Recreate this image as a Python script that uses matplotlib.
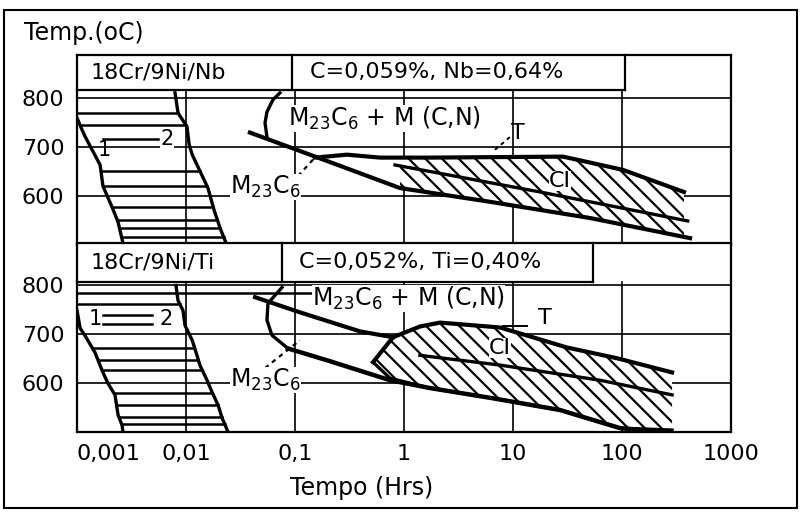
import numpy as np
import matplotlib.pyplot as plt
from matplotlib.patches import Rectangle

plt.rcParams['font.family'] = ['DejaVu Sans']
plt.rcParams['hatch.linewidth'] = 1.6

x_ticks = [0.001, 0.01, 0.1, 1, 10, 100, 1000]
x_labels = ['0,001', '0,01', '0,1', '1', '10', '100', '1000']
y_ticks = [600, 700, 800]
y_labels = ['600', '700', '800']

# ---------------- 18Cr/9Ni/Nb (upper panel)
nb_title = '18Cr/9Ni/Nb'
nb_comp = 'C=0,059%, Nb=0,64%'
nb_c1_t = [0.0010, 0.00111, 0.00118, 0.00163, 0.00173, 0.00209, 0.00238, 0.00264]
nb_c1_T = [759, 735, 722, 663, 620, 578, 547, 504]
nb_c2_t = [0.00793, 0.00845, 0.0102, 0.0107, 0.0114, 0.0134, 0.0159, 0.0181, 0.0205, 0.0233]
nb_c2_T = [810, 769, 741, 704, 684, 651, 616, 571, 535, 504]
nb_levels = [769, 745, 651, 620, 578, 551, 535, 516]
nb_nose_t = [0.0728, 0.0628, 0.0553, 0.0531, 0.0553]
nb_nose_T = [810, 796, 771, 749, 720]
nb_low_t = [0.0386, 0.137, 0.918, 6.15, 50.8, 421]
nb_low_T = [729, 684, 616, 588, 555, 514]
nb_up_t = [0.152, 0.300, 0.602, 1.73, 28.8, 102, 370]
nb_up_T = [678, 684, 678, 678, 680, 653, 608]
nb_mid_t = [0.827, 17.7, 400]
nb_mid_T = [663, 608, 549]
nb_dash_t = [0.094, 0.152]
nb_dash_T = [627, 678]

# ---------------- 18Cr/9Ni/Ti (lower panel)
ti_title = '18Cr/9Ni/Ti'
ti_comp = 'C=0,052%, Ti=0,40%'
ti_c1_t = [0.0010, 0.00107, 0.00118, 0.00146, 0.00173, 0.00192, 0.00223, 0.00238, 0.00259, 0.00264]
ti_c1_T = [749, 712, 698, 663, 622, 600, 576, 535, 514, 500]
ti_c2_t = [0.00809, 0.00845, 0.00938, 0.0098, 0.0114, 0.0126, 0.0134, 0.0156, 0.0173, 0.0197, 0.0214, 0.0243]
ti_c2_T = [800, 769, 749, 718, 688, 657, 637, 606, 582, 555, 529, 500]
ti_levels = [763, 673, 647, 627, 580, 555, 531, 516]
ti_nose_t = [0.0760, 0.0656, 0.0565, 0.0553, 0.0615, 0.0863]
ti_nose_T = [796, 780, 763, 729, 698, 671]
ti_branch_t = [0.0863, 0.209, 0.745, 1.73, 6.56, 27.0, 95.9, 223]
ti_branch_T = [671, 645, 606, 590, 569, 545, 508, 500]
ti_mc_t = [0.0430, 0.111, 0.395, 0.792]
ti_mc_T = [776, 745, 706, 694]
ti_top_t = [0.520, 0.792, 1.40, 2.14, 7.60, 15.2, 31.3, 90.0, 288]
ti_top_T = [643, 694, 716, 724, 714, 694, 673, 651, 622]
ti_bot_t = [0.520, 0.745, 1.73, 6.56, 27.0, 95.9, 288]
ti_bot_T = [643, 610, 590, 569, 545, 508, 504]
ti_mid_t = [1.40, 7.60, 62.8, 288]
ti_mid_T = [657, 637, 606, 576]
ti_dash_t = [0.0531, 0.111]
ti_dash_T = [631, 688]

LW = 2.4
FS = 16


def logi(T, ts, Ts):
    # time on a curve at temperature T (curves have falling T)
    return 10 ** np.interp(T, np.array(Ts)[::-1], np.log10(ts)[::-1])


def logy(t, ts, Ts):
    return np.interp(np.log10(t), np.log10(ts), Ts)


def setup(ax, head, sep1, sep2, title, comp):
    ax.set_xscale('log')
    ax.set_xlim(0.001, 1000)
    ax.set_ylim(500, 887)
    for s in ax.spines.values():
        s.set_linewidth(1.6)
    ax.set_yticks(y_ticks)
    ax.set_yticklabels(y_labels, fontsize=FS)
    ax.tick_params(axis='both', length=0, pad=9)
    ax.minorticks_off()
    for y in y_ticks:
        ax.axhline(y, color='k', lw=1.2, zorder=1)
    for x in x_ticks[1:-1]:
        ax.axvline(x, ymax=head, color='k', lw=1.2, zorder=1)
    # header boxes
    kw = dict(transform=ax.transAxes, color='k', lw=1.6, clip_on=False)
    ax.plot([0, sep2], [head, head], **kw)
    ax.plot([sep1, sep1], [head, 1], **kw)
    ax.plot([sep2, sep2], [head, 1], **kw)
    ymid = (head + 1) / 2
    ax.text(0.02, ymid, title, transform=ax.transAxes, va='center', fontsize=FS)
    ax.text(sep1 + 0.027, ymid, comp, transform=ax.transAxes, va='center', fontsize=FS)


def left_band(ax, c1_t, c1_T, c2_t, c2_T, levels):
    for T in levels:
        ax.plot([logi(T, c1_t, c1_T), logi(T, c2_t, c2_T)], [T, T], color='k', lw=1.8)
    ax.plot(c1_t, c1_T, color='k', lw=LW)
    ax.plot(c2_t, c2_T, color='k', lw=LW)


def hatched(ax, lo_t, lo_T, hi_t, hi_T, t0, t1):
    tg = np.geomspace(t0, t1, 200)
    ax.fill_between(tg, logy(tg, lo_t, lo_T), logy(tg, hi_t, hi_T),
                    facecolor='white', edgecolor='k', hatch='\\\\', linewidth=0, zorder=2)


fig = plt.figure(figsize=(8, 5.12), dpi=100)
ax1 = fig.add_axes([77 / 800, 1 - 245 / 512, 654 / 800, 190 / 512])
ax2 = fig.add_axes([77 / 800, 1 - 432 / 512, 654 / 800, 189 / 512])

sub = 'M$_{23}$C$_6$'
white = dict(fc='white', ec='none', pad=0)

# upper panel
setup(ax1, 0.816, 0.329, 0.838, nb_title, nb_comp)
ax1.set_xticks(x_ticks)
ax1.set_xticklabels([])
left_band(ax1, nb_c1_t, nb_c1_T, nb_c2_t, nb_c2_T, nb_levels)
ax1.plot([0.00173, 0.00553], [716, 716], color='k', lw=1.8)
ax1.text(0.00177, 694, '1', fontsize=15, ha='center', va='center')
ax1.text(0.0067, 716, '2', fontsize=15, ha='center', va='center', bbox=white)
hatched(ax1, nb_low_t, nb_low_T, nb_up_t, nb_up_T, 0.92, 370)
ax1.plot(nb_nose_t, nb_nose_T, color='k', lw=LW, zorder=3)
ax1.plot(nb_low_t, nb_low_T, color='k', lw=LW + 0.6, zorder=3)
ax1.plot(nb_up_t, nb_up_T, color='k', lw=LW + 0.6, zorder=3)
ax1.plot(nb_mid_t, nb_mid_T, color='k', lw=LW, zorder=3)
ax1.plot(nb_dash_t, nb_dash_T, color='k', lw=1.6, ls=(0, (2, 2)), zorder=3)
ax1.text(0.0863, 757, sub + ' + M (C,N)', fontsize=17, va='center', bbox=white, zorder=4)
ax1.text(0.0254, 618, sub, fontsize=17, va='center', bbox=white, zorder=4)
ax1.plot([6.84, 9.38], [694, 720], color='k', lw=1.4, ls=(0, (2, 2)), zorder=3)
ax1.text(11.1, 729, 'T', fontsize=16, ha='center', va='center')
ax1.text(27.0, 631, 'CI', fontsize=16, ha='center', va='center', zorder=4, bbox=white)

# lower panel
setup(ax2, 0.794, 0.313, 0.789, ti_title, ti_comp)
ax2.set_xticks(x_ticks)
ax2.set_xticklabels(x_labels, fontsize=FS)
ax2.get_xticklabels()[0].set_horizontalalignment('left')
left_band(ax2, ti_c1_t, ti_c1_T, ti_c2_t, ti_c2_T, ti_levels)
ax2.plot([0.001, 0.14], [784, 784], color='k', lw=1.8)
ax2.plot([0.00173, 0.00488], [739, 739], color='k', lw=1.8)
ax2.plot([0.00173, 0.00488], [722, 722], color='k', lw=1.8)
ax2.text(0.00146, 731, '1', fontsize=15, ha='center', va='center')
ax2.text(0.0066, 731, '2', fontsize=15, ha='center', va='center')
hatched(ax2, ti_bot_t, ti_bot_T, ti_top_t, ti_top_T, 0.52, 288)
ax2.plot(ti_nose_t, ti_nose_T, color='k', lw=LW, zorder=3)
ax2.plot(ti_branch_t, ti_branch_T, color='k', lw=LW + 0.8, zorder=3)
ax2.plot(ti_mc_t, ti_mc_T, color='k', lw=LW + 0.6, zorder=3)
ax2.plot(ti_top_t, ti_top_T, color='k', lw=LW + 0.6, zorder=3)
ax2.plot(ti_bot_t, ti_bot_T, color='k', lw=LW, zorder=3)
ax2.plot(ti_mid_t, ti_mid_T, color='k', lw=LW, zorder=3)
ax2.plot(ti_dash_t, ti_dash_T, color='k', lw=1.6, ls=(0, (2, 2)), zorder=3)
ax2.text(0.143, 773, sub + ' + M (C,N)', fontsize=17, va='center', bbox=white, zorder=4)
ax2.text(0.0254, 606, sub, fontsize=17, va='center', bbox=white, zorder=4)
ax2.plot([8.09, 13.4], [718, 718], color='k', lw=1.4, zorder=3)
ax2.text(19.7, 733, 'T', fontsize=16, ha='center', va='center')
ax2.text(7.60, 671, 'CI', fontsize=16, ha='center', va='center', zorder=4, bbox=white)

fig.text(24 / 800, 1 - 33 / 512, 'Temp.(oC)', fontsize=17, va='center')
fig.text(362 / 800, 1 - 488 / 512, 'Tempo (Hrs)', fontsize=17, ha='center', va='center')
fig.add_artist(Rectangle((4 / 800, 1 - 508 / 512), 793 / 800, 498 / 512,
                         transform=fig.transFigure, fill=False, lw=1.5, color='k'))

fig.savefig('out.png', dpi=100)
